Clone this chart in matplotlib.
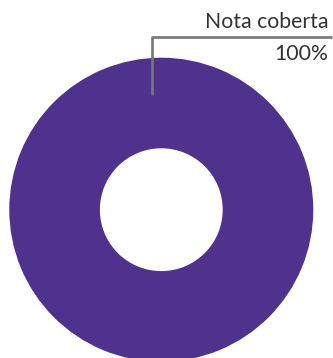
import matplotlib.pyplot as plt

plt.rcParams['font.family'] = ['Lato', 'DejaVu Sans']

rotulos = ["Nota coberta"]
valores = [100]
cores = ['#4e328e']

fig = plt.figure(figsize=(3.33, 3.58), dpi=100)
ax = fig.add_axes([0, 0, 1, 1])

ax.pie(valores, colors=cores, startangle=90, radius=1,
       wedgeprops=dict(width=0.596, edgecolor='none'))

# linha de chamada
ax.plot([-0.059, -0.059, 1.121], [0.755, 1.138, 1.138], color='#777777', lw=1.9,
        solid_capstyle='butt')
pct = valores[0] / sum(valores) * 100
ax.text(1.097, 1.193, rotulos[0], ha='right', va='baseline', fontsize=15.3, color='#333333')
ax.text(1.097, 0.984, "%d%%" % pct, ha='right', va='baseline', fontsize=15.3, color='#333333')

ax.set_xlim(-1.061, 1.1296)
ax.set_ylim(-0.9757, 1.3796)
ax.set_aspect('auto')
ax.axis('off')

fig.savefig('out.png', dpi=100)
